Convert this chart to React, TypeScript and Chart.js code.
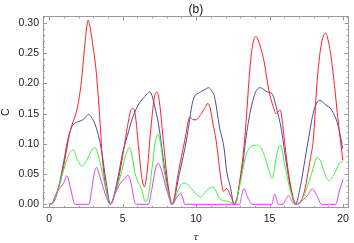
import React, { useEffect, useRef } from "react";
import { Chart, registerables } from "chart.js";
Chart.register(...registerables);

// ---- data ----
const blueTau = [0, 0.3, 0.7, 1.0, 1.26, 1.5, 1.73, 2.0, 2.29, 2.5, 2.67, 2.85, 3.19, 3.52, 3.86, 4.17, 4.6, 5.0, 5.42, 5.7, 6.1, 6.5, 6.83, 7.0, 7.2, 7.44, 7.8, 8.1, 8.33, 8.9, 9.34, 9.79, 10.24, 10.6, 10.85, 11.05, 11.25, 11.59, 11.92, 12.05, 12.37, 12.57, 13.15, 13.37, 13.71, 14.05, 14.38, 14.83, 15.17, 15.5, 15.77, 15.95, 16.22, 16.5, 16.75, 17.1, 17.4, 17.63, 18.01, 18.41, 18.8, 19.25, 19.69, 19.98];
const blueC = [0, 0.004, 0.035, 0.072, 0.106, 0.126, 0.134, 0.137, 0.14, 0.145, 0.149, 0.145, 0.128, 0.095, 0.04, 0, 0.035, 0.085, 0.122, 0.145, 0.166, 0.178, 0.186, 0.18, 0.16, 0.133, 0.07, 0.025, 0, 0.055, 0.106, 0.172, 0.185, 0.19, 0.193, 0.188, 0.178, 0.128, 0.09, 0.06, 0.024, 0, 0.062, 0.106, 0.156, 0.186, 0.193, 0.186, 0.183, 0.156, 0.128, 0.1, 0.056, 0.018, 0, 0.03, 0.073, 0.106, 0.155, 0.172, 0.165, 0.155, 0.128, 0.092];

const redTau = [0, 0.3, 0.7, 1.0, 1.39, 1.6, 1.82, 2.0, 2.2, 2.4, 2.55, 2.65, 2.78, 2.96, 3.19, 3.41, 3.63, 3.97, 4.17, 4.5, 4.9, 5.3, 5.55, 5.69, 5.85, 6.1, 6.3, 6.48, 6.65, 6.9, 7.15, 7.33, 7.5, 7.75, 8.0, 8.2, 8.38, 8.78, 9.23, 9.57, 9.8, 10.01, 10.35, 10.6, 10.8, 10.95, 11.14, 11.36, 11.7, 11.87, 12.06, 12.14, 12.37, 12.64, 13.04, 13.3, 13.71, 13.9, 14.07, 14.25, 14.61, 14.95, 15.24, 15.45, 15.73, 15.9, 16.06, 16.3, 16.6, 16.85, 17.3, 17.79, 17.97, 18.24, 18.5, 18.8, 19.0, 19.25, 19.69, 19.98];
const redC = [0, 0.004, 0.032, 0.065, 0.117, 0.135, 0.15, 0.17, 0.205, 0.258, 0.292, 0.305, 0.293, 0.265, 0.222, 0.155, 0.073, 0.013, 0, 0.02, 0.065, 0.125, 0.155, 0.159, 0.15, 0.09, 0.045, 0.029, 0.05, 0.12, 0.175, 0.186, 0.17, 0.11, 0.05, 0.015, 0, 0.051, 0.106, 0.144, 0.14, 0.14, 0.15, 0.16, 0.167, 0.16, 0.134, 0.106, 0.04, 0.021, 0.026, 0.025, 0.013, 0, 0.051, 0.106, 0.238, 0.27, 0.278, 0.27, 0.238, 0.189, 0.162, 0.15, 0.156, 0.13, 0.095, 0.05, 0.012, 0, 0.015, 0.078, 0.106, 0.205, 0.262, 0.283, 0.27, 0.232, 0.133, 0.073];

const greenTau = [0, 0.3, 0.7, 1.0, 1.3, 1.66, 1.9, 2.22, 2.6, 2.9, 3.12, 3.35, 3.72, 4.0, 4.17, 4.5, 4.84, 5.2, 5.45, 5.6, 5.85, 6.3, 6.55, 6.8, 7.0, 7.2, 7.39, 7.55, 7.8, 8.1, 8.38, 8.8, 9.12, 9.4, 9.68, 10.0, 10.3, 10.7, 11.14, 11.35, 11.58, 12.14, 12.64, 13.0, 13.37, 13.7, 14.16, 14.5, 14.95, 15.17, 15.5, 15.73, 16.06, 16.4, 16.8, 17.3, 17.86, 18.24, 18.5, 18.75, 19.05, 19.4, 19.76, 20.0];
const greenC = [0, 0.004, 0.033, 0.058, 0.08, 0.09, 0.075, 0.063, 0.075, 0.09, 0.094, 0.08, 0.04, 0.01, 0, 0.02, 0.046, 0.08, 0.094, 0.085, 0.051, 0.024, 0.004, 0.02, 0.06, 0.1, 0.116, 0.105, 0.06, 0.02, 0, 0.025, 0.035, 0.033, 0.026, 0.017, 0.012, 0.022, 0.029, 0.022, 0.01, 0.005, 0, 0.035, 0.079, 0.095, 0.098, 0.09, 0.057, 0.043, 0.084, 0.098, 0.062, 0.024, 0, 0.013, 0.051, 0.078, 0.07, 0.051, 0.039, 0.05, 0.068, 0.072];

const magentaTau = [0, 0.2, 0.47, 0.81, 1.0, 1.19, 1.3, 1.48, 1.75, 2.71, 2.9, 3.1, 3.23, 3.4, 3.72, 4.06, 4.17, 4.5, 4.84, 5.1, 5.36, 5.5, 5.62, 5.89, 6.75, 6.95, 7.2, 7.42, 7.6, 8.0, 8.38, 8.7, 8.94, 9.1, 9.23, 12.95, 13.1, 13.26, 13.45, 13.83, 15.15, 15.35, 15.6, 15.9, 16.1, 16.29, 16.55, 16.73, 17.3, 17.6, 17.9, 18.2, 18.55, 19.49, 19.75, 20.0];
const magentaC = [0, 0.002, 0.018, 0.029, 0.036, 0.047, 0.042, 0.024, 0, 0, 0.025, 0.055, 0.061, 0.05, 0.024, 0.002, 0, 0.018, 0.035, 0.041, 0.048, 0.042, 0.029, 0, 0, 0.02, 0.055, 0.068, 0.06, 0.024, 0, 0.012, 0.018, 0.01, 0, 0, 0.015, 0.026, 0.015, 0, 0, 0.017, 0, 0, 0.008, 0.014, 0.004, 0, 0.008, 0.015, 0.026, 0.015, 0, 0, 0.022, 0.041];

const xTickValues = [0, 5, 10, 15, 20];
const yTickValues = [0, 0.05, 0.1, 0.15, 0.2, 0.25, 0.3];
const titleText = "(b)";
const xTitle = "τ";
const yTitle = "C";

function pts(t: number[], c: number[]) {
  return t.map((x, i) => ({ x, y: c[i] }));
}

const frameColor = "#9a9a9a";

const framePlugin = {
  id: "frameTicks",
  afterDatasetsDraw(chart: any) {
    const { ctx, chartArea } = chart;
    const { left, right, top, bottom } = chartArea;
    const xs = chart.scales.x;
    const ys = chart.scales.y;
    ctx.save();
    ctx.strokeStyle = frameColor;
    ctx.lineWidth = 1;
    ctx.beginPath();
    for (let v = 0; v <= 20; v += 1) {
      const p = Math.round(xs.getPixelForValue(v)) + 0.5;
      const len = v % 5 === 0 ? 4 : 2;
      ctx.moveTo(p, bottom);
      ctx.lineTo(p, bottom - len);
      ctx.moveTo(p, top);
      ctx.lineTo(p, top + len);
    }
    for (let k = 0; k <= 31; k += 1) {
      const v = k / 100;
      const p = Math.round(ys.getPixelForValue(v)) + 0.5;
      const len = k % 5 === 0 ? 4 : 2;
      ctx.moveTo(left, p);
      ctx.lineTo(left + len, p);
      ctx.moveTo(right, p);
      ctx.lineTo(right - len, p);
    }
    ctx.stroke();
    ctx.strokeRect(Math.round(left) + 0.5, Math.round(top) + 0.5, Math.round(right - left) - 1, Math.round(bottom - top) - 1);
    ctx.restore();
  },
};

export default function App() {
  const ref = useRef<HTMLCanvasElement | null>(null);
  useEffect(() => {
    if (!ref.current) return;
    const font = "'Liberation Sans', Arial, sans-serif";
    const mk = (label: string, t: number[], c: number[], color: string) => ({
      label,
      data: pts(t, c),
      borderColor: color,
      backgroundColor: color,
      borderWidth: 1,
      pointRadius: 0,
      fill: false,
      cubicInterpolationMode: "monotone" as const,
    });
    const chart = new Chart(ref.current, {
      type: "line",
      data: {
        datasets: [
          mk("magenta", magentaTau, magentaC, "#e040f0"),
          mk("green", greenTau, greenC, "#3cf03c"),
          mk("red", redTau, redC, "#ff2020"),
          mk("blue", blueTau, blueC, "#4a4aa6"),
        ],
      },
      options: {
        animation: false,
        responsive: true,
        maintainAspectRatio: false,
        layout: { padding: { left: 0, right: 1.5, top: 0, bottom: 0 } },
        plugins: {
          legend: { display: false },
          tooltip: { enabled: false },
          title: {
            display: true,
            text: titleText,
            fullSize: false,
            color: "#111",
            font: { family: font, size: 12, weight: "normal" },
            padding: { top: 2, bottom: 0 },
          },
        },
        scales: {
          x: {
            type: "linear",
            min: -0.42,
            max: 20.38,
            grid: { display: false, drawTicks: false },
            border: { display: false },
            afterBuildTicks: (s: any) => {
              s.ticks = xTickValues.map((v) => ({ value: v }));
            },
            afterFit: (s: any) => {
              s.height = 35;
            },
            ticks: {
              color: "#222",
              padding: 5,
              maxRotation: 0,
              font: { family: font, size: 10.5 },
              callback: (v: any) => String(v),
            },
            title: {
              display: true,
              text: xTitle,
              color: "#222",
              padding: { top: 0, bottom: 0 },
              font: { family: "'DejaVu Serif', serif", size: 10, style: "italic" },
            },
          },
          y: {
            type: "linear",
            min: -0.0061,
            max: 0.311,
            grid: { display: false, drawTicks: false },
            border: { display: false },
            afterBuildTicks: (s: any) => {
              s.ticks = yTickValues.map((v) => ({ value: v }));
            },
            afterFit: (s: any) => {
              s.width = 43;
            },
            ticks: {
              color: "#222",
              padding: 4,
              font: { family: font, size: 10.5 },
              callback: (v: any) => Number(v).toFixed(2),
            },
            title: {
              display: true,
              text: yTitle,
              color: "#222",
              padding: { top: 0, bottom: 0 },
              font: { family: font, size: 10.5 },
            },
          },
        },
      },
      plugins: [framePlugin],
    });
    return () => chart.destroy();
  }, []);
  return (
    <div style={{ position: "fixed", left: 0, top: 0, width: 354, height: 243, background: "#fff" }}>
      <canvas ref={ref} />
    </div>
  );
}
